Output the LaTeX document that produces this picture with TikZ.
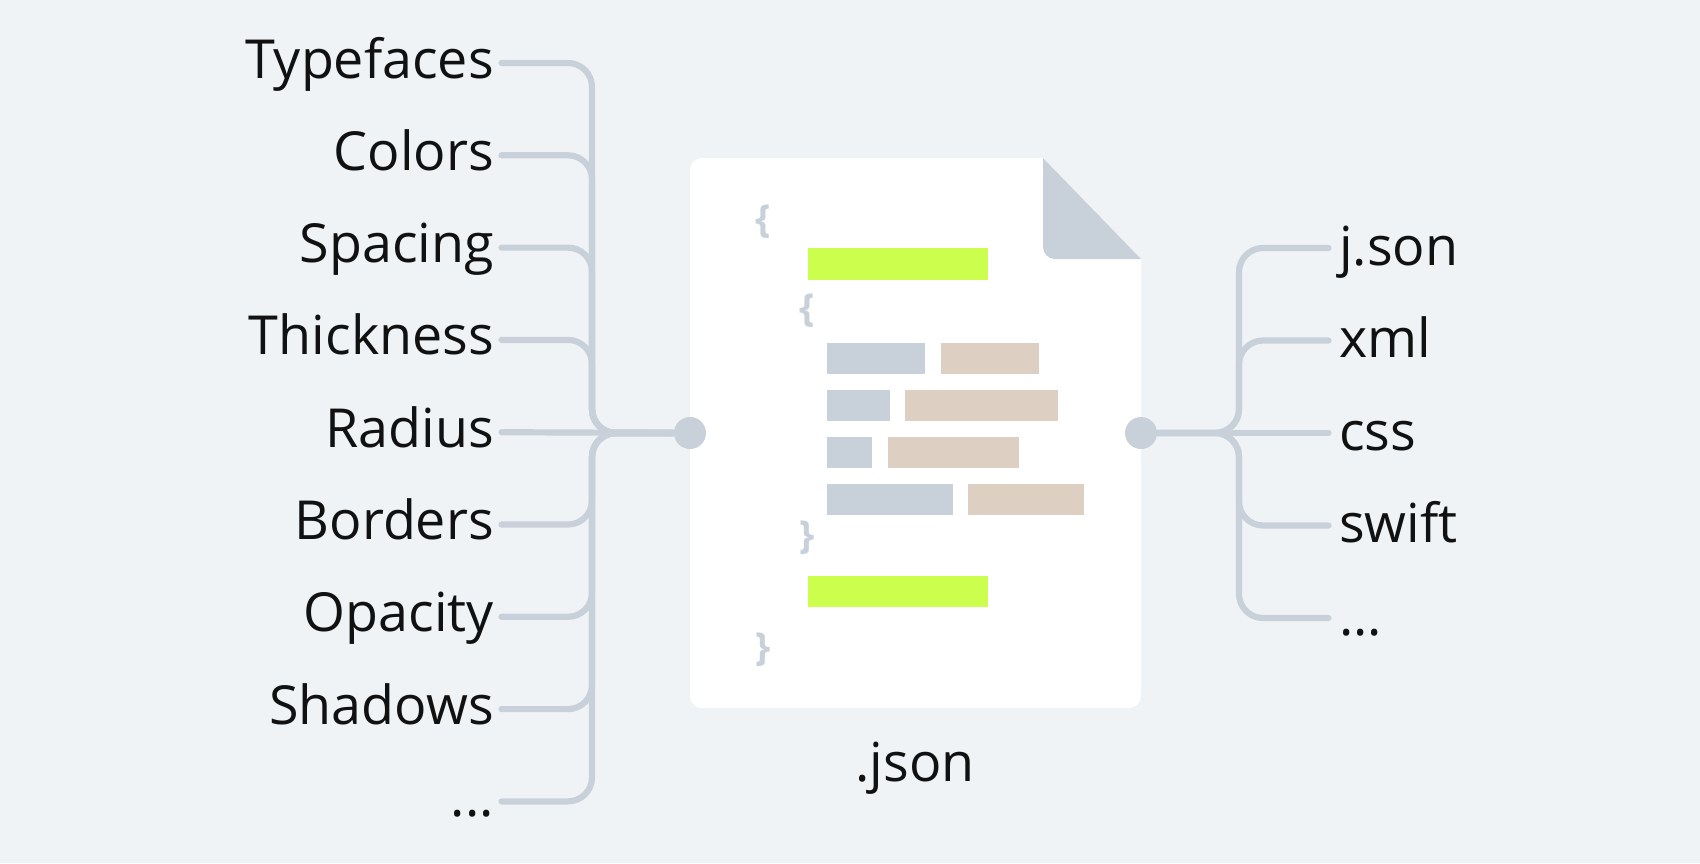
\documentclass[tikz,border=0pt]{standalone}
\usepackage{fontspec}
\setmainfont{Open Sans}
\definecolor{pagebg}{HTML}{EFF3F6}
\definecolor{wirecol}{HTML}{C8D1DA}
\definecolor{limecol}{HTML}{CCFF4D}
\definecolor{tancol}{HTML}{DDCFC2}
\definecolor{inkcol}{HTML}{111111}
\newcommand{\tagdots}{...}
\tikzset{
  wire/.style={draw=wirecol, line width=0.062cm, line cap=round, rounded corners=0.24cm},
  hub/.style={circle, fill=wirecol, inner sep=0pt, minimum size=0.32cm},
  lefttag/.style={anchor=east, inner xsep=0.07cm, inner ysep=0pt, text height=0.45cm, text depth=0.15cm, text=inkcol, font=\fontsize{15.3}{18}\selectfont},
  righttag/.style={lefttag, anchor=west, inner xsep=0.1cm, text height=0.47cm, text depth=0.13cm},
  brace/.style={text=wirecol, inner sep=0pt, font=\fontsize{11}{14}\selectfont\bfseries},
}
\begin{document}
\begin{tikzpicture}[x=0.01cm, y=-0.01cm]
  \fill[pagebg] (0,0) rectangle (1700,863);
  \useasboundingbox (0,0) rectangle (1700,863);

  \coordinate (LT) at (592,433);
  \coordinate (RT) at (1239,433);

  % sheet
  \fill[white, rounded corners=0.12cm] (690,300) -- (690,158) [sharp corners] -- (1043,158) -- (1141,259) [rounded corners=0.12cm] -- (1141,708) -- (690,708) -- cycle;
  \fill[wirecol] (1043,158) [rounded corners=0.12cm] -- (1043,259) [sharp corners] -- (1141,259) -- cycle;

  % bars
  \foreach \xa/\xb/\ya/\yb in {808/988/248/280, 808/988/576/607}
    \fill[limecol] (\xa,\ya) rectangle (\xb,\yb);
  \foreach \xa/\xb/\ya/\yb in {827/925/343/374, 827/890/390/421, 827/872/437/468, 827/953/484/515}
    \fill[wirecol] (\xa,\ya) rectangle (\xb,\yb);
  \foreach \xa/\xb/\ya/\yb in {941/1039/343/374, 905/1058/390/421, 888/1019/437/468, 968/1084/484/515}
    \fill[tancol] (\xa,\ya) rectangle (\xb,\yb);

  \node[brace] (BA) at (763,222) {\{};
  \node[brace] (BB) at (807,311) {\{};
  \node[brace] (BC) at (807,538) {\}};
  \node[brace] (BD) at (763,650) {\}};

  \node[hub] (HL) at (690,433) {};
  \node[hub] (HR) at (1141,433) {};

  \foreach \txt [count=\i from 0] in {Typefaces,Colors,Spacing,Thickness,Radius,Borders,Opacity,Shadows,\tagdots}
    \node[lefttag] (L\i) at (501.5,{63+92.3*\i}) {\txt};
  \foreach \txt [count=\i from 0] in {j.son,xml,css,swift,\tagdots}
    \node[righttag] (R\i) at (1328.5,{248+92.5*\i}) {\txt};

  \foreach \i in {0,1,2,3,5,6,7,8}
    \draw[wire] (L\i.east) -| (LT) -- (HL);
  \draw[wire] (L4.east) -- (HL);
  \foreach \i in {0,1,3,4}
    \draw[wire] (HR) -- (RT) |- (R\i.west);
  \draw[wire] (HR) -- (R2.west);

  \node[text=inkcol, font=\fontsize{15.3}{18}\selectfont] (J) at (915,768) {.json};
\end{tikzpicture}
\end{document}
